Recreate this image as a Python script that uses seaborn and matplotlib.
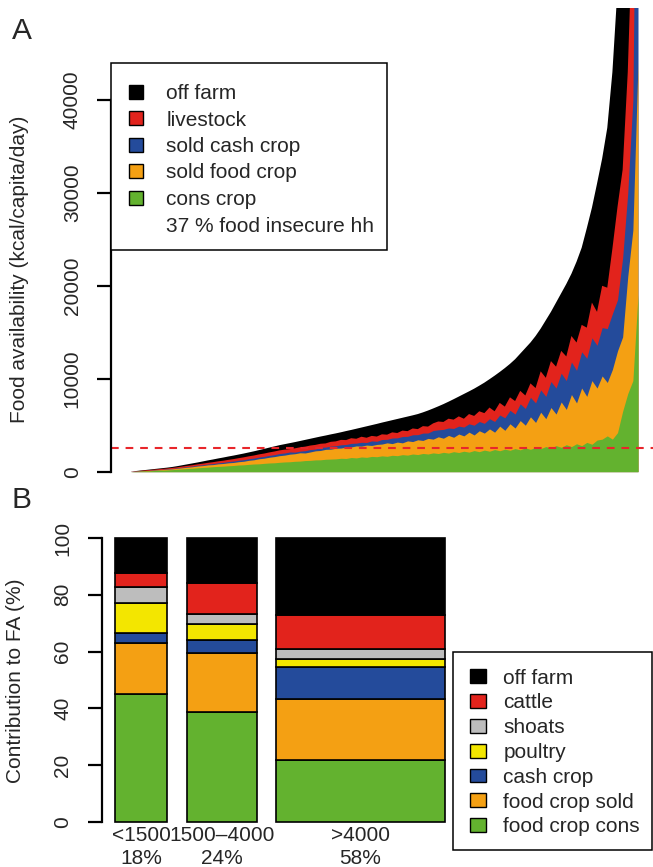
import matplotlib

matplotlib.use("Agg")

import matplotlib.pyplot as plt
import numpy as np
import seaborn as sns
from matplotlib.patches import Patch, Rectangle

# ---- panel A: households sorted by food availability (kcal/capita/day),
# cumulative level of each source left to right
top_cons_crop = [
    5, 25, 55, 80, 105, 135, 160, 185, 215, 255,
    295, 335, 365, 415, 455, 485, 535, 565, 595, 635,
    665, 715, 735, 785, 825, 845, 895, 935, 955, 1005,
    1045, 1065, 1115, 1135, 1195, 1215, 1265, 1275, 1335, 1355,
    1380, 1440, 1420, 1520, 1480, 1580, 1540, 1640, 1610, 1700,
    1650, 1760, 1720, 1830, 1780, 1900, 1840, 1960, 1900, 2020,
    1950, 2080, 2000, 2150, 2060, 2200, 2100, 2270, 2150, 2320,
    2200, 2380, 2250, 2420, 2300, 2480, 2350, 2560, 2400, 2620,
    2480, 2700, 2560, 2800, 2620, 2900, 2700, 3000, 2800, 3150,
    2950, 3400, 3500, 3850, 3500, 4200, 6500, 8400, 9800, 19000,
]
top_sold_food = [
    6, 35, 75, 110, 145, 185, 220, 260, 300, 360,
    420, 480, 530, 610, 650, 730, 760, 840, 880, 950,
    990, 1070, 1120, 1220, 1280, 1390, 1450, 1550, 1620, 1720,
    1780, 1880, 1930, 2030, 2010, 2120, 2240, 2280, 2400, 2420,
    2520, 2540, 2640, 2660, 2770, 2750, 2860, 2820, 2930, 2970,
    3100, 3020, 3180, 3100, 3310, 3240, 3430, 3360, 3580, 3500,
    3750, 3600, 3900, 3700, 4050, 3850, 4250, 3950, 4400, 4150,
    4600, 4250, 4900, 4450, 5150, 4700, 5500, 5000, 5900, 5300,
    6400, 5700, 6900, 6200, 7500, 6700, 8300, 7400, 9000, 8100,
    9800, 9000, 10300, 9600, 11000, 13000, 14500, 21000, 26000, 44000,
]
top_sold_cash = [
    7, 42, 85, 125, 165, 205, 245, 290, 340, 400,
    470, 540, 600, 690, 730, 820, 860, 950, 1000, 1090,
    1140, 1230, 1290, 1390, 1460, 1570, 1640, 1750, 1830, 1950,
    2010, 2120, 2100, 2210, 2260, 2380, 2430, 2620, 2640, 2750,
    2790, 2890, 2930, 3040, 3070, 3160, 3140, 3310, 3270, 3460,
    3480, 3620, 3640, 3780, 3800, 3970, 3980, 4150, 4160, 4430,
    4500, 4550, 4700, 4650, 4900, 4800, 5150, 5000, 5400, 5200,
    5700, 5400, 6100, 5800, 6600, 6200, 7300, 6800, 8000, 7400,
    8800, 8100, 9700, 9000, 10600, 9800, 11800, 10900, 12900, 12200,
    14400, 13600, 15500, 15400, 17000, 18500, 23000, 30000, 40000, 90000,
]
top_livestock = [
    8, 50, 100, 145, 195, 240, 290, 340, 400, 470,
    550, 630, 700, 790, 860, 950, 1020, 1110, 1180, 1270,
    1350, 1450, 1540, 1650, 1740, 1860, 1950, 2070, 2170, 2290,
    2370, 2420, 2510, 2620, 2690, 2810, 2880, 3000, 3040, 3210,
    3260, 3420, 3400, 3600, 3540, 3760, 3650, 3850, 3780, 4020,
    3980, 4230, 4160, 4420, 4360, 4650, 4580, 4900, 4850, 5200,
    5400, 5350, 5700, 5600, 5950, 5700, 6200, 6000, 6500, 6300,
    6900, 6500, 7400, 7000, 8000, 7600, 8700, 8200, 9500, 9000,
    10800, 10100, 11900, 11300, 13000, 12400, 14600, 13900, 15800, 15500,
    18200, 17200, 20000, 19800, 24000, 28500, 32500, 43000, 60000, 100000,
]
top_total = [
    10, 70, 130, 190, 250, 310, 370, 430, 500, 590,
    690, 790, 890, 990, 1100, 1210, 1310, 1420, 1520, 1630,
    1730, 1840, 1950, 2070, 2190, 2320, 2450, 2590, 2720, 2850,
    2960, 3070, 3180, 3300, 3420, 3540, 3660, 3780, 3890, 4010,
    4120, 4240, 4370, 4490, 4620, 4750, 4880, 5010, 5140, 5280,
    5410, 5540, 5670, 5800, 5930, 6060, 6200, 6380, 6580, 6800,
    7030, 7270, 7530, 7800, 8080, 8360, 8640, 8930, 9250, 9580,
    9950, 10330, 10730, 11150, 11600, 12100, 12700, 13300, 13900, 14600,
    15400, 16300, 17200, 18200, 19200, 20200, 21300, 22600, 24100, 26200,
    28400, 31000, 33700, 37000, 43000, 52000, 62000, 75000, 90000, 110000,
]
threshold_kcal = 2500
legend_a_labels = ["off farm", "livestock", "sold cash crop", "sold food crop", "cons crop"]
legend_a_note = "37 % food insecure hh"

# ---- panel B: mean contribution (%) per food availability class
group_names = ["<1500", "1500\u20134000", ">4000"]
group_share = [18, 24, 58]
food_crop_cons = [45.1, 38.8, 21.7]
food_crop_sold = [18.1, 20.8, 21.6]
cash_crop = [3.5, 4.6, 11.2]
poultry = [10.3, 5.5, 3.0]
shoats = [5.9, 3.5, 3.5]
cattle = [4.9, 11.1, 11.8]
off_farm = [12.2, 15.7, 27.2]
legend_b_labels = ["off farm", "cattle", "shoats", "poultry", "cash crop", "food crop sold", "food crop cons"]

BLACK = "#000000"
RED = "#e2231c"
BLUE = "#244b9b"
ORANGE = "#f4a013"
GREEN = "#63b22f"
YELLOW = "#f3e600"
GREY = "#bdbdbd"

sns.set_theme(style="white")
plt.rcParams["font.family"] = ["Liberation Sans", "DejaVu Sans"]

W, H = 653, 867
fig = plt.figure(figsize=(W / 100, H / 100), dpi=100)


def px_box(left, top, right, bottom):
    return [left / W, 1 - bottom / H, (right - left) / W, (bottom - top) / H]


def style_y_axis(ax, ticks, top):
    sns.despine(ax=ax, top=True, right=True, bottom=True)
    ax.spines["left"].set_bounds(0, top)
    ax.spines["left"].set_linewidth(1.6)
    ax.spines["left"].set_color("black")
    ax.set_yticks(ticks)
    ax.set_yticklabels([str(t) for t in ticks], rotation=90, va="center")
    ax.tick_params(axis="y", direction="out", length=10, width=1.6, color="black",
                   labelsize=15, pad=11, left=True)
    ax.set_xticks([])
    ax.grid(False)
    ax.set_facecolor("none")


# ---------------- panel A ----------------
axA = fig.add_axes(px_box(111, 7.8, 653, 489.5))
n = len(top_total)
hh = np.arange(n)
layers = [
    (top_total, BLACK),
    (top_livestock, RED),
    (top_sold_cash, BLUE),
    (top_sold_food, ORANGE),
    (top_cons_crop, GREEN),
]
for values, color in layers:
    axA.fill_between(hh, 0, values, color=color, linewidth=0)
axA.axhline(threshold_kcal, color="#e8262b", lw=1.5, ls=(0, (3.7, 3.3)))
unit = (638 - 131) / (n - 1)
axA.set_xlim(-20 / unit, n - 1 + 15 / unit)
axA.set_ylim(-1920, 49920)
style_y_axis(axA, [0, 10000, 20000, 30000, 40000], 40000)

fig.text(19.7 / W, 1 - 269 / H, "Food availability (kcal/capita/day)", rotation=90,
         ha="center", va="center", fontsize=15)
fig.text(22 / W, 1 - 31 / H, "A", ha="center", va="center", fontsize=21.5)

fig.add_artist(Rectangle((111 / W, 1 - 250 / H), (387 - 111) / W, (250 - 63) / H,
                         transform=fig.transFigure, facecolor="white", edgecolor="black",
                         linewidth=1.1, zorder=3))
handles_a = [Patch(facecolor=c, edgecolor="black", linewidth=1.0)
             for c in [BLACK, RED, BLUE, ORANGE, GREEN]]
handles_a.append(Patch(facecolor="none", edgecolor="none"))
leg_a = fig.legend(handles_a, legend_a_labels + [legend_a_note], loc="upper left",
                   bbox_to_anchor=(129 / W, 1 - 84 / H), bbox_transform=fig.transFigure,
                   frameon=False, borderpad=0, borderaxespad=0, fontsize=15,
                   handlelength=0.65, handleheight=0.65, handletextpad=1.15,
                   labelspacing=0.36)
leg_a.set_zorder(4)

# ---------------- panel B ----------------
axB = fig.add_axes(px_box(101.5, 526.6, 458.3, 833.4))
widths = np.asarray(group_share, dtype=float)
space = 0.2 * widths.mean()
lefts = space + np.concatenate([[0], np.cumsum(widths + space)[:-1]])
segments = [
    (food_crop_cons, GREEN),
    (food_crop_sold, ORANGE),
    (cash_crop, BLUE),
    (poultry, YELLOW),
    (shoats, GREY),
    (cattle, RED),
    (off_farm, BLACK),
]
bottom = np.zeros(len(widths))
for values, color in segments:
    axB.bar(lefts, values, width=widths, bottom=bottom, align="edge", color=color,
            edgecolor="black", linewidth=1.2)
    bottom += np.asarray(values)
span = lefts[-1] + widths[-1] - lefts[0]
axB.set_xlim(lefts[0] - 0.04 * span, lefts[-1] + widths[-1] + 0.04 * span)
axB.set_ylim(-4, 104)
style_y_axis(axB, [0, 20, 40, 60, 80, 100], 100)
for x0, w, name, share in zip(lefts, widths, group_names, group_share):
    axB.text(x0 + w / 2, -1.3, f"{name}\n{share}%", ha="center", va="top",
             fontsize=15, linespacing=1.3, clip_on=False)

fig.text(15.6 / W, 1 - 680.7 / H, "Contribution to FA (%)", rotation=90,
         ha="center", va="center", fontsize=15)
fig.text(22 / W, 1 - 500 / H, "B", ha="center", va="center", fontsize=21.5)

fig.add_artist(Rectangle((453 / W, 1 - 850 / H), (652 - 453) / W, (850 - 652) / H,
                         transform=fig.transFigure, facecolor="white", edgecolor="black",
                         linewidth=1.1, zorder=3))
handles_b = [Patch(facecolor=c, edgecolor="black", linewidth=1.0)
             for c in [BLACK, RED, GREY, YELLOW, BLUE, ORANGE, GREEN]]
leg_b = fig.legend(handles_b, legend_b_labels, loc="upper left",
                   bbox_to_anchor=(470 / W, 1 - 668.5 / H), bbox_transform=fig.transFigure,
                   frameon=False, borderpad=0, borderaxespad=0, fontsize=15,
                   handlelength=0.75, handleheight=0.65, handletextpad=0.85,
                   labelspacing=0.28)
leg_b.set_zorder(4)

fig.savefig("out.png", dpi=100)
